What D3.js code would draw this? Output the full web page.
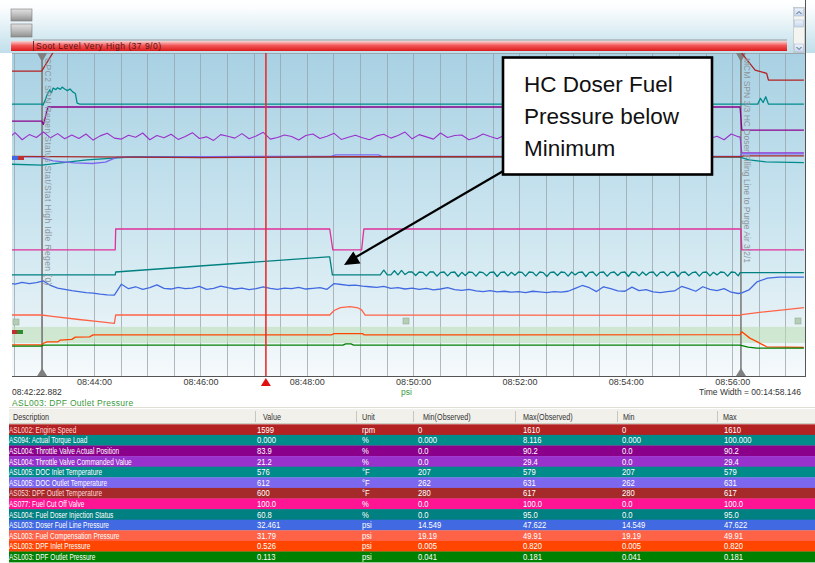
<!DOCTYPE html>
<html>
<head>
<meta charset="utf-8">
<script src="https://cdnjs.cloudflare.com/ajax/libs/d3/7.8.5/d3.min.js"></script>
<style>
  body { margin: 0; background: #fff; }
  text { font-family: "Liberation Sans", Arial, sans-serif; }
</style>
</head>
<body>
<div id="chart"></div>
<script>
// Recording window
var startTime = "08:42:22.882";
var timeWidth = 898.146; // seconds
var redCursor = 291, leftCursor = 38.5, rightCursor = 827; // seconds from start
var bandLevels = [10.3, 15.3];

// Traces: [seconds from start, trace level 0..100 of plot height]
var engineSpeed = [[0,95],[38,95],[58,104],[826,104],[828,100.5],[843,95.3],[856,94.3],[858,92.2],[898,92.2]];
var torqueLoad = [[0,84.7],[38,84.7],[39.5,84.4],[42,86],[44,87.5],[47,89.1],[49,88.2],[51,89.7],[54,89.2],[56,89.8],[59,89.3],[61,90.0],[64,89.4],[67,88.9],[70,89.4],[73,88.5],[76,88.0],[78,85.0],[81,84.7],[846,84.7],[849,86.5],[852,85.2],[855,87],[858,84.7],[898,84.7]];
var throttleActual = [[0,79.4],[38,79.4],[40,78.4],[42,80.5],[45,83.8],[826,83.8],[828,76.6],[898,76.6]];
var throttleCmdStep = 8;
var throttleCmd = [74.0,75.8,73.6,75.2,74.3,76.0,74.2,75.5,73.9,75.1,
  74.0,75.4,73.5,74.8,75.6,74.1,73.8,75.0,74.4,75.7,
  73.6,74.9,74.2,75.3,73.7,74.6,75.8,74.0,74.5,73.4,
  75.2,74.7,74.1,75.5,73.9,74.8,75.9,73.8,74.3,75.1,
  74.6,73.5,74.9,75.4,74.0,74.7,75.6,73.7,74.4,75.0,
  74.2,73.6,74.8,75.3,74.1,74.9,76.0,73.9,75.2,74.5,
  73.8,75.7,74.3,74.9,75.1,73.6,74.2,75.4,74.6,73.9,
  75.0,74.4,75.8,73.7,74.8,75.2,74.0,74.6,75.5,73.8,
  74.3,75.1,74.7,76.1,73.5,74.9,75.3,74.2,74.6,73.9,
  75.6,74.1,74.8,75.0,73.7,74.5,75.9,74.3,75.2,74.0,
  74.7,73.6,75.4,74.5];
var throttleCmdTail = [[826,74.5],[828,69.5],[898,69.5]];
var docInlet = [[0,66.0],[38,65.7],[67,66.6],[89,67.3],[115,67.8],[141,68.3],[826,68.2],[836,67.3],[855,66.7],[898,66.5]];
var docOutlet = [[0,68.3],[38,68.3],[40,67.8],[51,67.0],[75,66.4],[95,66.2],[110,66.6],[123,68.2],[365,68.5],[370,68.9],[418,68.9],[422,68.4],[826,68.4],[828,69.2],[898,69.2]];
var dpfOutletTemp = [[0,68.4],[140,68.2],[220,68.0],[260,68.1],[380,68.3],[826,68.3],[830,68.6],[898,68.6]];
var fuelCutOff = [[0,39.3],[121,39.3],[121.5,45.8],[363,45.8],[366.5,39.3],[399,39.3],[401.5,45.8],[827,45.8],[828,39.3],[898,39.3]];
var doserStatusHead = [[0,31.5],[121,31.5],[121.5,32.4],[361,37.1],[363,37.1],[366,31.5],[418,31.5]];
var doserStatusStart = 420, doserStatusStep = 4;
var doserStatus = [31.5,33.0,31.5,31.5,32.8,31.5,32.9,31.6,32.4,32.4,
  31.3,32.4,32.3,31.2,32.4,32.4,31.1,32.3,32.4,31.2,
  32.3,32.4,31.0,32.3,31.3,32.4,32.3,31.1,32.4,32.2,
  31.2,32.3,32.4,31.0,32.3,32.4,31.2,32.3,31.4,32.4,
  32.3,31.1,32.4,32.3,31.2,32.4,32.2,31.0,32.3,32.4,
  31.3,32.4,32.3,31.1,32.4,31.5,32.3,32.4,31.0,32.3,
  32.4,31.2,32.3,32.4,31.1,32.2,32.4,31.3,32.3,32.4,
  31.0,32.4,32.3,31.2,32.4,31.4,32.3,32.4,31.1,32.3,
  32.4,31.2,32.3,32.4,31.0,32.3,32.4,31.3,32.2,32.4,
  31.1,32.3,32.4,31.2,32.3,31.5,32.4,32.3,31.1,32.4,
  32.3,31.2];
var doserStatusTail = [[826,32.2],[898,32.2]];
var doserPressureStep = 8;
var doserPressure = [29.0,28.6,29.2,28.8,29.1,
  29.6,28.2,27.4,27.0,26.6,26.3,26.0,25.8,25.5,25.3,25.2,
  28.6,27.2,27.8,27.0,27.5,28.4,27.3,27.1,27.6,27.2,
  27.4,27.9,27.0,27.3,28.0,27.5,27.1,27.4,26.9,27.2,
  27.8,27.3,27.0,27.4,27.2,27.6,27.1,27.3,27.5,27.0,
  28.8,28.5,28.2,28.3,28.0,27.8,27.6,27.9,27.3,27.5,
  27.1,27.4,27.0,27.3,26.8,27.1,27.5,26.9,26.7,27.0,
  26.5,26.3,26.6,26.2,26.4,26.1,26.3,26.0,26.4,26.2,
  26.0,26.3,26.1,26.4,27.3,28.2,27.5,26.3,27.8,27.2,
  26.5,26.4,27.7,26.6,26.9,26.2,26.0,26.3,26.5,27.9,
  27.2,26.4,27.8,27.0,26.6,27.2,26.1,25.7];
var doserPressureTail = [[828,25.9],[836,26.8],[845,29.3],[857,30.5],[870,30.8],[898,30.8]];
var fuelComp = [[0,19.0],[38,19.0],[50,18.6],[80,17.6],[100,17.0],[120,16.4],[121.5,19.0],[363,19.0],[368,20.4],[375,21.3],[386,21.6],[395,21.2],[399,20.6],[403,19.0],[826,18.9],[828,19.1],[850,19.9],[875,20.6],[898,21.3]];
var dpfInletP = [[0,9.7],[38,9.7],[40,10.2],[44,10.6],[56,10.6],[59,11.2],[72,11.4],[76,12.1],[92,12.2],[96,12.8],[365,12.8],[368,13.2],[400,13.2],[402,12.8],[826,12.9],[828,13.8],[837,11.8],[845,10.7],[856,9.1],[898,8.9]];
var dpfOutletP = [[0,9.3],[38,9.3],[40,9.6],[378,9.6],[381,10.0],[387,10.0],[390,9.6],[826,9.6],[835,9.0],[845,8.7],[898,8.7]];

// Table
var descriptions = ["ASL002: Engine Speed","AS094: Actual Torque Load","ASL004: Throttle Valve Actual Position","ASL004: Throttle Valve Commanded Value","ASL005: DOC Inlet Temperature","ASL005: DOC Outlet Temperature","AS053: DPF Outlet Temperature","AS077: Fuel Cut Off Valve","ASL004: Fuel Doser Injection Status","ASL003: Doser Fuel Line Pressure","ASL003: Fuel Compensation Pressure","ASL003: DPF Inlet Pressure","ASL003: DPF Outlet Pressure"];
var values = ["1599","0.000","83.9","21.2","576","612","600","100.0","60.8","32.461","31.79","0.526","0.113"];
var units = ["rpm","%","%","%","°F","°F","°F","%","%","psi","psi","psi","psi"];
var minObserved = ["0","0.000","0.0","0.0","207","262","280","0.0","0.0","14.549","19.19","0.005","0.041"];
var maxObserved = ["1610","8.116","90.2","29.4","579","631","617","100.0","95.0","47.622","49.91","0.820","0.181"];
var mins = ["0","0.000","0.0","0.0","207","262","280","0.0","0.0","14.549","19.19","0.005","0.041"];
var maxs = ["1610","100.000","90.2","29.4","579","631","617","100.0","95.0","47.622","49.91","0.820","0.181"];
var rowColors = ["#b22222","#008b8b","#8b008b","#9932cc","#008b8b","#7b68ee","#a52a2a","#ff1493","#008080","#4169e1","#ff6347","#ff4500","#008000"];
var headers = ["Description","Value","Unit","Min(Observed)","Max(Observed)","Min","Max"];

// build the trace list in table order
function sampled(vals, t0, step) { return vals.map(function(v, i) { return [t0 + i * step, v]; }); }
var traces = [
  engineSpeed, torqueLoad, throttleActual,
  sampled(throttleCmd, 0, throttleCmdStep).concat(throttleCmdTail),
  docInlet, docOutlet, dpfOutletTemp, fuelCutOff,
  doserStatusHead.concat(sampled(doserStatus, doserStatusStart, doserStatusStep), doserStatusTail),
  sampled(doserPressure, 0, doserPressureStep).concat(doserPressureTail),
  fuelComp, dpfInletP, dpfOutletP
];
var lineColors = rowColors.slice();
lineColors[7] = "#e0309a";

var W = 815, H = 563;
var plot = {left: 12, right: 805, top: 53, bottom: 376};

var svg = d3.select("#chart").append("svg")
  .attr("width", W).attr("height", H);
var defs = svg.append("defs");

function grad(id, stops) {
  var g = defs.append("linearGradient").attr("id", id)
    .attr("x1", 0).attr("y1", 0).attr("x2", 0).attr("y2", 1);
  stops.forEach(function(s) { g.append("stop").attr("offset", s[0]).attr("stop-color", s[1]); });
}
grad("topBg", [[0, "#ffffff"], [0.15, "#fbfdfe"], [1, "#c0dfea"]]);
grad("plotBg", [[0, "#a8d1e3"], [0.5, "#c9e4ef"], [0.8, "#e2f0f5"], [1, "#f6fafc"]]);
grad("redBar", [[0, "#fbd4d4"], [0.45, "#f25858"], [1, "#dc1a1a"]]);
grad("btn", [[0, "#e2e2e2"], [0.5, "#bdbdbd"], [1, "#8f8f8f"]]);
grad("scrollBtn", [[0, "#eef4fb"], [1, "#c6d6ec"]]);

defs.append("clipPath").attr("id", "plotClip")
  .append("rect")
  .attr("x", plot.left).attr("y", plot.top)
  .attr("width", plot.right - plot.left).attr("height", plot.bottom - plot.top);

// Top strip
svg.append("rect").attr("x", 0).attr("y", 0).attr("width", W).attr("height", plot.top)
  .attr("fill", "url(#topBg)");
svg.append("rect").attr("x", 11).attr("y", 9).attr("width", 21).attr("height", 12)
  .attr("fill", "url(#btn)").attr("stroke", "#7a7a7a").attr("stroke-width", 0.6);
svg.append("rect").attr("x", 11).attr("y", 24).attr("width", 21).attr("height", 13)
  .attr("fill", "url(#btn)").attr("stroke", "#7a7a7a").attr("stroke-width", 0.6);
svg.append("line").attr("x1", 33).attr("x2", 787).attr("y1", 40).attr("y2", 40)
  .attr("stroke", "#9a9a9a");
svg.append("rect").attr("x", 11).attr("y", 41).attr("width", 776).attr("height", 10)
  .attr("fill", "url(#redBar)");
svg.append("line").attr("x1", 33.5).attr("x2", 33.5).attr("y1", 41).attr("y2", 51)
  .attr("stroke", "#6b2a2a");
svg.append("text").attr("x", 36).attr("y", 49.3)
  .attr("font-size", "8.5px").attr("letter-spacing", "0.5px").attr("fill", "#5b1212")
  .text("Soot Level Very High (37 9/0)");

// scroll bar
svg.append("rect").attr("x", 793.5).attr("y", 7.5).attr("width", 11).attr("height", 45)
  .attr("fill", "#f4f4f1").attr("stroke", "#b9b9b9").attr("stroke-width", 0.6);
[8, 20, 44].forEach(function(yy, i) {
  svg.append("rect").attr("x", 794.5).attr("y", yy).attr("width", 9).attr("height", i == 1 ? 7 : 8)
    .attr("fill", "url(#scrollBtn)").attr("stroke", "#9fb2cf").attr("stroke-width", 0.5);
});
svg.append("path").attr("d", "M796.5,14 L799,11.5 L801.5,14").attr("fill", "none").attr("stroke", "#4d6185");
svg.append("path").attr("d", "M796.5,47 L799,49.5 L801.5,47").attr("fill", "none").attr("stroke", "#4d6185");
svg.append("line").attr("x1", 805.5).attr("x2", 805.5).attr("y1", 0).attr("y2", plot.bottom)
  .attr("stroke", "#555");

// Plot area
svg.append("rect").attr("x", plot.left).attr("y", plot.top)
  .attr("width", plot.right - plot.left).attr("height", plot.bottom - plot.top)
  .attr("fill", "url(#plotBg)");
svg.append("line").attr("x1", plot.left).attr("x2", plot.right).attr("y1", plot.top + 0.5).attr("y2", plot.top + 0.5)
  .attr("stroke", "#9aa7b0");

var t0 = d3.timeParse("%H:%M:%S.%L")(startTime);
function toDate(s) { return new Date(t0.getTime() + s * 1000); }
var x = d3.scaleTime().domain([t0, toDate(timeWidth)]).range([8, 804]);
var y = d3.scaleLinear().domain([0, 100]).range([plot.bottom, plot.top + 2]);

// 30 second grid
var grid = svg.append("g");
grid.selectAll("line")
  .data(d3.timeSecond.every(30).range(t0, toDate(timeWidth)))
  .enter().append("line")
  .attr("x1", function(d) { return Math.round(x(d)) + 0.5; })
  .attr("x2", function(d) { return Math.round(x(d)) + 0.5; })
  .attr("y1", plot.top).attr("y2", plot.bottom)
  .attr("stroke", "#9aa2aa").attr("stroke-opacity", 0.75);

var g = svg.append("g").attr("clip-path", "url(#plotClip)");

// shaded band
g.append("rect").attr("x", plot.left).attr("width", plot.right - plot.left)
  .attr("y", y(bandLevels[1])).attr("height", y(bandLevels[0]) - y(bandLevels[1]))
  .attr("fill", "#b9dcb0").attr("fill-opacity", 0.55);

// cursor lines
[leftCursor, rightCursor].forEach(function(s) {
  var cx = x(toDate(s));
  g.append("line").attr("x1", cx).attr("x2", cx).attr("y1", plot.top).attr("y2", plot.bottom)
    .attr("stroke", "#7d7d7d").attr("stroke-width", 1.6);
  g.append("path").attr("d", "M" + (cx - 5) + "," + plot.top + "L" + (cx + 5) + "," + plot.top + "L" + cx + "," + (plot.top + 9) + "Z")
    .attr("fill", "#808080");
  g.append("path").attr("d", "M" + (cx - 5) + "," + plot.bottom + "L" + (cx + 5) + "," + plot.bottom + "L" + cx + "," + (plot.bottom - 8) + "Z")
    .attr("fill", "#808080");
});

// vertical event texts
function vText(s, txt, spacing) {
  var tx = x(toDate(s)) + 3;
  svg.append("text").attr("transform", "translate(" + tx + "," + (plot.top + 5) + ") rotate(90)")
    .attr("font-size", "8.5px").attr("letter-spacing", spacing).attr("fill", "#8e959c").text(txt);
}
vText(leftCursor, "CPC2 SPN Regen Status Stat/Stat High Idle Regen (0)", "0.4px");
vText(rightCursor, "MCM SPN 3/3 HC Doser Filling Line to Purge Air 3/2/1", "0px");

// small legend markers
[[12, 156, "#4169e1"], [18, 156, "#c03030"], [12, 330, "#c03030"], [17, 330, "#2e8b2e"]].forEach(function(m) {
  svg.append("rect").attr("x", m[0]).attr("y", m[1]).attr("width", 6).attr("height", 4).attr("fill", m[2]);
});
[[13, 319], [403, 318], [795, 318]].forEach(function(m) {
  svg.append("rect").attr("x", m[0]).attr("y", m[1]).attr("width", 6).attr("height", 6)
    .attr("fill", "#b5ccb5").attr("stroke", "#94ad94").attr("stroke-width", 0.6);
});

// traces
var line = d3.line()
  .x(function(d) { return x(toDate(d[0])); })
  .y(function(d) { return y(d[1]); });
g.selectAll(".trace")
  .data(traces)
  .enter().append("path")
  .attr("class", "trace")
  .attr("d", line)
  .attr("fill", "none")
  .attr("stroke", function(d, i) { return lineColors[i]; })
  .attr("stroke-width", function(d, i) { return i == 3 ? 1.1 : 1.3; })
  .attr("stroke-linejoin", "round");

// red time cursor
var rx = x(toDate(redCursor));
svg.append("line").attr("x1", rx).attr("x2", rx).attr("y1", plot.top).attr("y2", plot.bottom)
  .attr("stroke", "#e83030").attr("stroke-width", 1.6);
svg.append("path").attr("d", "M" + (rx - 5) + ",386L" + (rx + 5) + ",386L" + rx + ",378Z")
  .attr("fill", "#e01010");

// time axis
svg.append("line").attr("x1", plot.left).attr("x2", plot.right + 1).attr("y1", plot.bottom + 0.5).attr("y2", plot.bottom + 0.5)
  .attr("stroke", "#555");
var axis = svg.append("g").attr("transform", "translate(0," + plot.bottom + ")")
  .call(d3.axisBottom(x).ticks(d3.timeMinute.every(2)).tickFormat(d3.timeFormat("%H:%M:%S")).tickSize(0).tickPadding(2.5));
axis.select(".domain").remove();
axis.selectAll("text").attr("font-size", "9px").attr("fill", "#3a3a3a")
  .attr("font-family", "\"Liberation Sans\", Arial, sans-serif");

svg.append("text").attr("x", 12).attr("y", 395).attr("font-size", "8.5px").attr("fill", "#333").text(startTime);
svg.append("text").attr("x", 12).attr("y", 405.5).attr("font-size", "8.5px").attr("letter-spacing", "0.3px")
  .attr("fill", "#3c9a3c").text(descriptions[12]);
svg.append("text").attr("x", 401).attr("y", 395).attr("font-size", "8.5px").attr("fill", "#3c9a3c").text(units[12]);
svg.append("text").attr("x", 801).attr("y", 395).attr("text-anchor", "end").attr("font-size", "8.5px").attr("fill", "#333")
  .text("Time Width = 00:14:58.146");

// callout
var box = svg.append("g");
box.append("line").attr("x1", 505).attr("y1", 170).attr("x2", 356).attr("y2", 257)
  .attr("stroke", "#000").attr("stroke-width", 2.2);
box.append("path").attr("d", "M344,265L353.3,251.4L360.5,263.4Z").attr("fill", "#000");
box.append("rect").attr("x", 503).attr("y", 57.5).attr("width", 209).attr("height", 117)
  .attr("fill", "#fff").attr("stroke", "#000").attr("stroke-width", 2.6);
["HC Doser Fuel", "Pressure below", "Minimum"].forEach(function(t, i) {
  box.append("text").attr("x", 524).attr("y", 92 + i * 31.8)
    .attr("font-family", "\"Noto Sans\", \"Open Sans\", sans-serif")
    .attr("font-size", "22.5px").attr("fill", "#111").text(t);
});

// data table
var colText = [9, 257, 362, 418, 523, 622, 724];
var colHead = [13, 263, 362, 423, 523, 623, 723];
var colSep = [255, 356, 413, 515, 617, 717];
svg.append("line").attr("x1", 9).attr("x2", W).attr("y1", 407.5).attr("y2", 407.5).attr("stroke", "#e0ded4");
svg.append("rect").attr("x", 9).attr("y", 409).attr("width", W - 9).attr("height", 15)
  .attr("fill", "#f1f0ea");
svg.append("line").attr("x1", 9).attr("x2", W).attr("y1", 423.5).attr("y2", 423.5).attr("stroke", "#cfcdc2");
colSep.forEach(function(cx) {
  svg.append("line").attr("x1", cx + 0.5).attr("x2", cx + 0.5).attr("y1", 411).attr("y2", 422)
    .attr("stroke", "#c9c7bd");
});
headers.forEach(function(h, i) {
  svg.append("text").attr("transform", "translate(" + colHead[i] + ",420) scale(0.85,1)")
    .attr("font-size", "8.5px").attr("fill", "#333").text(h);
});

var rowH = 10.6, row0 = 424.3;
var rows = svg.append("g").selectAll("g")
  .data(descriptions)
  .enter().append("g")
  .attr("transform", function(d, i) { return "translate(0," + (row0 + i * rowH) + ")"; });
rows.append("rect").attr("x", 9).attr("width", W - 9).attr("height", rowH + 0.3)
  .attr("fill", function(d, i) { return rowColors[i]; });
var cols = [descriptions, values, units, minObserved, maxObserved, mins, maxs];
cols.forEach(function(arr, c) {
  rows.append("text")
    .attr("transform", "translate(" + colText[c] + ",8.4) scale(" + (c == 0 ? 0.72 : 0.9) + ",1)")
    .attr("font-size", c == 0 ? "9px" : "8.5px")
    .attr("fill", function(d, i) { return (c == 0 && (i == 0 || i == 6)) ? "#ffd6d6" : "#fff"; })
    .text(function(d, i) { return arr[i]; });
});
</script>
</body>
</html>
